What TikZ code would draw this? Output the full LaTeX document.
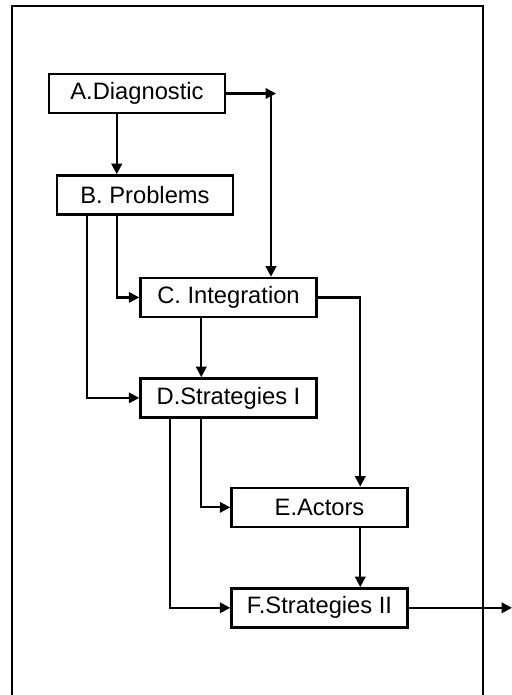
\documentclass[tikz,border=0pt]{standalone}
\usepackage{fontspec}
\setmainfont{Liberation Sans}
\usetikzlibrary{arrows.meta, positioning, calc}
\tikzset{
    stagebox/.style={
        rectangle,
        draw=black,
        line width=1.4pt,
        align=center,
        fill=white,
        minimum width=3.52cm,
        minimum height=0.78cm,
        inner sep=0pt,
        font=\fontsize{13.5}{16}\selectfont
    },
    flowarrow/.style={-{Triangle[length=2.1mm, width=2.1mm]}, line width=1.3pt, draw=black},
    framebox/.style={draw=black, line width=1.3pt}
}

\begin{document}
\begin{tikzpicture}
    \useasboundingbox (0,0) rectangle (10.24,-13.9);
    \draw[framebox] (0.24,-13.9) -- (0.24,-0.12) -- (9.66,-0.12) -- (9.66,-13.9);

    \node[stagebox] (diag) at (2.74,-1.87) {A.Diagnostic};
    \node[stagebox, below=1.2cm of diag, xshift=0.16cm] (prob) {B. Problems};
    \node[stagebox, below=1.22cm of prob, xshift=1.67cm] (integ) {C. Integration};
    \node[stagebox, below=1.18cm of integ] (strat1) {D.Strategies I};
    \node[stagebox, below=1.36cm of strat1, xshift=1.82cm] (actors) {E.Actors};
    \node[stagebox, below=1.18cm of actors] (strat2) {F.Strategies II};

    % ports and bends
    \coordinate (tipA) at (5.52,0);
    \coordinate (bendA) at (5.42,0);
    \coordinate (exit) at (10.24,0);
    \coordinate (diagOut) at ([xshift=1.38cm]diag.south west);
    \coordinate (probOutA) at ([xshift=1.22cm]prob.south west);
    \coordinate (probOutB) at ([xshift=0.62cm]prob.south west);
    \coordinate (integOut) at ([xshift=1.24cm]integ.south west);
    \coordinate (integRun) at ([xshift=2.6cm]actors.north west);
    \coordinate (stratOutA) at ([xshift=1.24cm]strat1.south west);
    \coordinate (stratOutB) at ([xshift=0.62cm]strat1.south west);

    \draw[flowarrow] (diagOut) -- (diagOut |- prob.north);
    \draw[flowarrow] (diag.east) -- (diag.east -| tipA);
    \draw[flowarrow] (diag.east -| bendA) -- (integ.north -| bendA);
    \draw[flowarrow] (probOutA) |- (integ.west);
    \draw[flowarrow] (probOutB) |- (strat1.west);
    \draw[flowarrow] (integOut) -- (integOut |- strat1.north);
    \draw[flowarrow] (integ.east) -| (integRun);
    \draw[flowarrow] (stratOutA) |- (actors.west);
    \draw[flowarrow] (stratOutB) |- (strat2.west);
    \draw[flowarrow] (integRun |- actors.south) -- (integRun |- strat2.north);
    \draw[flowarrow] (strat2.east) -- (strat2.east -| exit);
\end{tikzpicture}
\end{document}
